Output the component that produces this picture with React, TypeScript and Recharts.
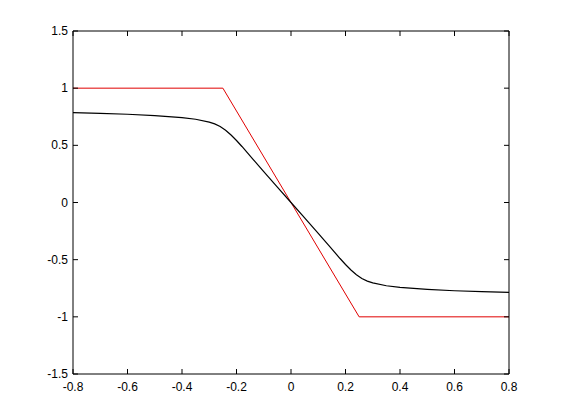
import React from 'react';
import { LineChart, Line, XAxis, YAxis } from 'recharts';

// black curve (smooth saturation)
const curveX = [-0.8, -0.7, -0.6, -0.5, -0.4, -0.35, -0.3, -0.28, -0.26, -0.24, -0.22, -0.2, -0.18, -0.14, -0.1, -0.05, 0, 0.05, 0.1, 0.14, 0.18, 0.2, 0.22, 0.24, 0.26, 0.28, 0.3, 0.35, 0.4, 0.5, 0.6, 0.7, 0.8];
const curveY = [0.786, 0.78, 0.772, 0.76, 0.743, 0.728, 0.703, 0.688, 0.665, 0.632, 0.59, 0.542, 0.49, 0.38, 0.27, 0.135, 0, -0.135, -0.27, -0.38, -0.49, -0.542, -0.59, -0.632, -0.665, -0.688, -0.703, -0.728, -0.743, -0.76, -0.772, -0.78, -0.786];

// red curve (hard clip)
const clipX = [-0.8, -0.25, 0.25, 0.8];
const clipY = [1, 1, -1, -1];

const xTicks = [-0.8, -0.6, -0.4, -0.2, 0, 0.2, 0.4, 0.6, 0.8];
const yTicks = [-1.5, -1, -0.5, 0, 0.5, 1, 1.5];

const curveData = curveX.map((x, i) => ({ x, y: curveY[i] }));
const clipData = clipX.map((x, i) => ({ x, y: clipY[i] }));

const FONT = 'Liberation Sans, Arial, sans-serif';

const fmt = (v: number) => String(Math.round(v * 10) / 10);

const BottomTick = (props: any) => {
  const { x, y, payload } = props;
  return (
    <g>
      <line x1={x} y1={y} x2={x} y2={y - 5} stroke="#000" />
      <text x={x} y={y + 13} textAnchor="middle" dominantBaseline="central" fontSize={12} fontFamily={FONT} fill="#000">
        {fmt(payload.value)}
      </text>
    </g>
  );
};

const LeftTick = (props: any) => {
  const { x, y, payload } = props;
  return (
    <g>
      <line x1={x} y1={y} x2={x + 5} y2={y} stroke="#000" />
      <text x={x - 5} y={y} textAnchor="end" dominantBaseline="central" fontSize={12} fontFamily={FONT} fill="#000">
        {fmt(payload.value)}
      </text>
    </g>
  );
};

const NoLabel = () => <g />;

export default function App() {
  return (
    <div style={{ width: 545, height: 404, background: '#fff' }}>
      <LineChart width={545} height={404} margin={{ top: 23, right: 44, bottom: 0, left: 0 }}>
        <XAxis
          xAxisId="b"
          type="number"
          dataKey="x"
          domain={[-0.8, 0.8]}
          ticks={xTicks}
          interval={0}
          height={38}
          tickSize={0}
          tickMargin={0}
          tickLine={false}
          axisLine={{ stroke: '#000' }}
          tick={<BottomTick />}
          allowDataOverflow
        />
        <XAxis
          xAxisId="t"
          orientation="top"
          type="number"
          dataKey="x"
          domain={[-0.8, 0.8]}
          ticks={xTicks}
          interval={0}
          height={1}
          mirror
          tickSize={5}
          tickLine={{ stroke: '#000' }}
          axisLine={{ stroke: '#000' }}
          tick={<NoLabel />}
          allowDataOverflow
        />
        <YAxis
          yAxisId="l"
          type="number"
          domain={[-1.5, 1.5]}
          ticks={yTicks}
          interval={0}
          width={65}
          tickSize={0}
          tickMargin={0}
          tickLine={false}
          axisLine={{ stroke: '#000' }}
          tick={<LeftTick />}
          allowDataOverflow
        />
        <YAxis
          yAxisId="r"
          orientation="right"
          type="number"
          domain={[-1.5, 1.5]}
          ticks={yTicks}
          interval={0}
          width={1}
          mirror
          tickSize={5}
          tickLine={{ stroke: '#000' }}
          axisLine={{ stroke: '#000' }}
          tick={<NoLabel />}
          allowDataOverflow
        />
        <Line
          xAxisId="t"
          yAxisId="r"
          data={clipData}
          dataKey="y"
          type="linear"
          stroke="none"
          dot={false}
          legendType="none"
          isAnimationActive={false}
        />
        <Line
          xAxisId="b"
          yAxisId="l"
          data={clipData}
          dataKey="y"
          type="linear"
          stroke="#e00000"
          strokeWidth={1}
          dot={false}
          isAnimationActive={false}
        />
        <Line
          xAxisId="b"
          yAxisId="l"
          data={curveData}
          dataKey="y"
          type="linear"
          stroke="#000"
          strokeWidth={1.2}
          dot={false}
          isAnimationActive={false}
        />
      </LineChart>
    </div>
  );
}
